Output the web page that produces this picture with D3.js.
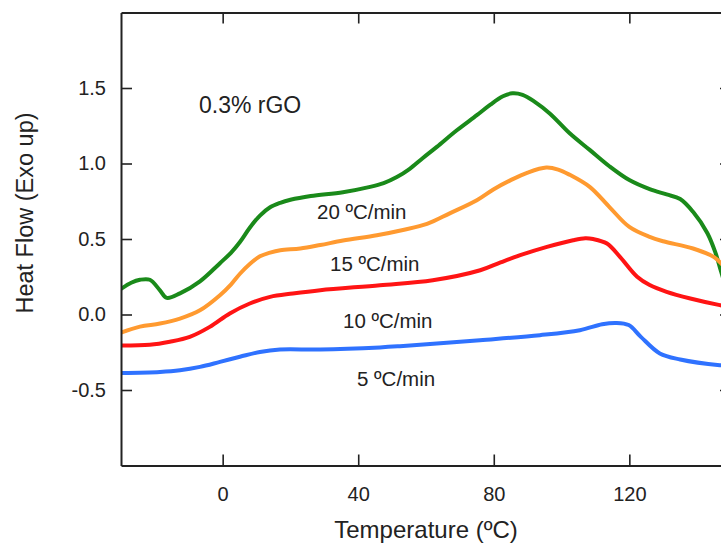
<!DOCTYPE html>
<html>
<head>
<meta charset="utf-8">
<script src="https://cdn.jsdelivr.net/npm/d3@7/dist/d3.min.js"></script>
<style>
  body { margin: 0; background: #fff; }
  svg { display: block; font-family: "Liberation Sans", Arial, sans-serif; }
</style>
</head>
<body>
<svg id="chart" width="721" height="544"></svg>
<script>
// temperature (ºC) / heat flow pairs
const temp20 = [-30, -27, -24.4, -21.5, -18.5, -16.5, -12.6, -6.7, -0.8, 2.5, 5.1, 8, 11, 14, 17, 20, 26, 35.5, 43.5, 47.5, 51.4, 55.2, 59, 63.2, 69.1, 75, 79, 82.7, 85.5, 88.5, 92, 96.6, 102.4, 108.3, 114.2, 120, 126, 131, 135, 138.8, 143, 145.4, 147, 148.5];
const flow20 = [0.17, 0.21, 0.23, 0.23, 0.16, 0.11, 0.14, 0.22, 0.34, 0.41, 0.48, 0.575, 0.655, 0.71, 0.74, 0.76, 0.785, 0.81, 0.845, 0.87, 0.91, 0.965, 1.035, 1.11, 1.22, 1.32, 1.39, 1.445, 1.465, 1.455, 1.41, 1.33, 1.2, 1.09, 0.98, 0.89, 0.83, 0.795, 0.765, 0.68, 0.54, 0.41, 0.29, 0.18];

const temp15 = [-30, -24.4, -18.5, -12.6, -6.7, -0.8, 2.5, 5.1, 8, 11, 14, 17, 22.9, 28.8, 35.5, 45.5, 53.2, 60.3, 67, 75, 80, 85, 90, 95.5, 99, 102.4, 108.3, 114.2, 120, 126, 130, 138.8, 145, 147, 148.5];
const flow15 = [-0.12, -0.08, -0.06, -0.027, 0.028, 0.128, 0.2, 0.27, 0.335, 0.385, 0.41, 0.426, 0.437, 0.46, 0.49, 0.525, 0.56, 0.6, 0.67, 0.757, 0.83, 0.89, 0.94, 0.973, 0.96, 0.925, 0.845, 0.71, 0.58, 0.514, 0.485, 0.437, 0.38, 0.34, 0.3];

const temp10 = [-30, -21.5, -15.6, -9.7, -3.8, 2.1, 8, 14, 20.7, 28.8, 46.4, 62, 76, 82, 87.8, 95.7, 103.4, 107, 109.3, 113.4, 117.3, 122.3, 126, 131, 138, 146.7, 148.5];
const flow10 = [-0.205, -0.2, -0.18, -0.148, -0.082, 0.007, 0.073, 0.117, 0.139, 0.161, 0.194, 0.227, 0.293, 0.345, 0.393, 0.448, 0.492, 0.505, 0.5, 0.47, 0.38, 0.25, 0.195, 0.15, 0.106, 0.062, 0.055];

const temp5 = [-30, -18.5, -12.6, -6.7, -0.8, 5.1, 11, 16.9, 28.8, 46.4, 52.3, 75.9, 93.6, 105.4, 112, 116, 119.8, 123.4, 129, 135, 146.7, 148.5];
const flow5 = [-0.387, -0.38, -0.369, -0.347, -0.314, -0.28, -0.248, -0.232, -0.232, -0.218, -0.21, -0.17, -0.137, -0.104, -0.065, -0.056, -0.07, -0.148, -0.258, -0.298, -0.336, -0.338];

const rateLabels = ['20 ºC/min', '15 ºC/min', '10 ºC/min', '5 ºC/min'];
const xTicks = [0, 40, 80, 120];
const yTicks = [-0.5, 0, 0.5, 1.0, 1.5];

const svg = d3.select('#chart');
const margin = {left: 121, top: 12.5, right: 731, bottom: 465.5};

const x = d3.scaleLinear().domain([-30, 150]).range([margin.left, margin.right]);
const y = d3.scaleLinear().domain([-1, 2]).range([margin.bottom, margin.top]);

const series = [
  {t: temp20, v: flow20, color: '#1a8a1a', label: rateLabels[0], lx: 317, ly: 219},
  {t: temp15, v: flow15, color: '#ff9a30', label: rateLabels[1], lx: 330, ly: 271},
  {t: temp10, v: flow10, color: '#ff1414', label: rateLabels[2], lx: 343, ly: 328},
  {t: temp5,  v: flow5,  color: '#2f72ff', label: rateLabels[3], lx: 357, ly: 386},
];

const line = d3.line()
  .x(d => x(d[0]))
  .y(d => y(d[1]))
  .curve(d3.curveCatmullRom.alpha(0.5));

svg.append('clipPath').attr('id', 'plot-clip')
  .append('rect')
  .attr('x', margin.left).attr('y', margin.top)
  .attr('width', margin.right - margin.left).attr('height', margin.bottom - margin.top);

const plot = svg.append('g').attr('clip-path', 'url(#plot-clip)');

series.forEach(s => {
  plot.append('path')
    .datum(s.t.map((t, i) => [t, s.v[i]]))
    .attr('d', line)
    .attr('fill', 'none')
    .attr('stroke', s.color)
    .attr('stroke-width', 4)
    .attr('stroke-linejoin', 'round');
});

// axes with inward ticks on all four sides
const fmtY = v => d3.format('.1f')(v).replace('\u2212', '-');

const gBottom = svg.append('g').attr('transform', `translate(0,${margin.bottom})`)
  .call(d3.axisBottom(x).tickValues(xTicks).tickSizeInner(-11).tickSizeOuter(0).tickPadding(21));
const gTop = svg.append('g').attr('transform', `translate(0,${margin.top})`)
  .call(d3.axisTop(x).tickValues(xTicks).tickSizeInner(-11).tickSizeOuter(0).tickFormat(''));
const gLeft = svg.append('g').attr('transform', `translate(${margin.left},0)`)
  .call(d3.axisLeft(y).tickValues(yTicks).tickSizeInner(-11).tickSizeOuter(0).tickPadding(15).tickFormat(fmtY));
const gRight = svg.append('g').attr('transform', `translate(${margin.right},0)`)
  .call(d3.axisRight(y).tickValues(yTicks).tickSizeInner(-11).tickSizeOuter(0).tickFormat(''));

[gBottom, gTop, gLeft, gRight].forEach(g => {
  g.select('.domain').attr('stroke', '#222').attr('stroke-width', 2);
  g.selectAll('.tick line').attr('stroke', '#222').attr('stroke-width', 1.6);
  g.selectAll('.tick text')
    .attr('fill', '#222')
    .style('font-size', '20px')
    .style('font-family', '"Liberation Sans", Arial, sans-serif');
});

// axis titles
svg.append('text')
  .attr('x', (margin.left + margin.right) / 2)
  .attr('y', 538)
  .attr('text-anchor', 'middle')
  .attr('fill', '#222')
  .style('font-size', '24px')
  .text('Temperature (ºC)');

svg.append('text')
  .attr('transform', 'translate(33,213) rotate(-90)')
  .attr('text-anchor', 'middle')
  .attr('fill', '#222')
  .style('font-size', '23.5px')
  .text('Heat Flow (Exo up)');

// annotations
svg.append('text')
  .attr('x', 199)
  .attr('y', 112.5)
  .attr('fill', '#222')
  .style('font-size', '23px')
  .text('0.3% rGO');

series.forEach(s => {
  svg.append('text')
    .attr('x', s.lx)
    .attr('y', s.ly)
    .attr('fill', '#222')
    .style('font-size', '20.5px')
    .text(s.label);
});
</script>
</body>
</html>
